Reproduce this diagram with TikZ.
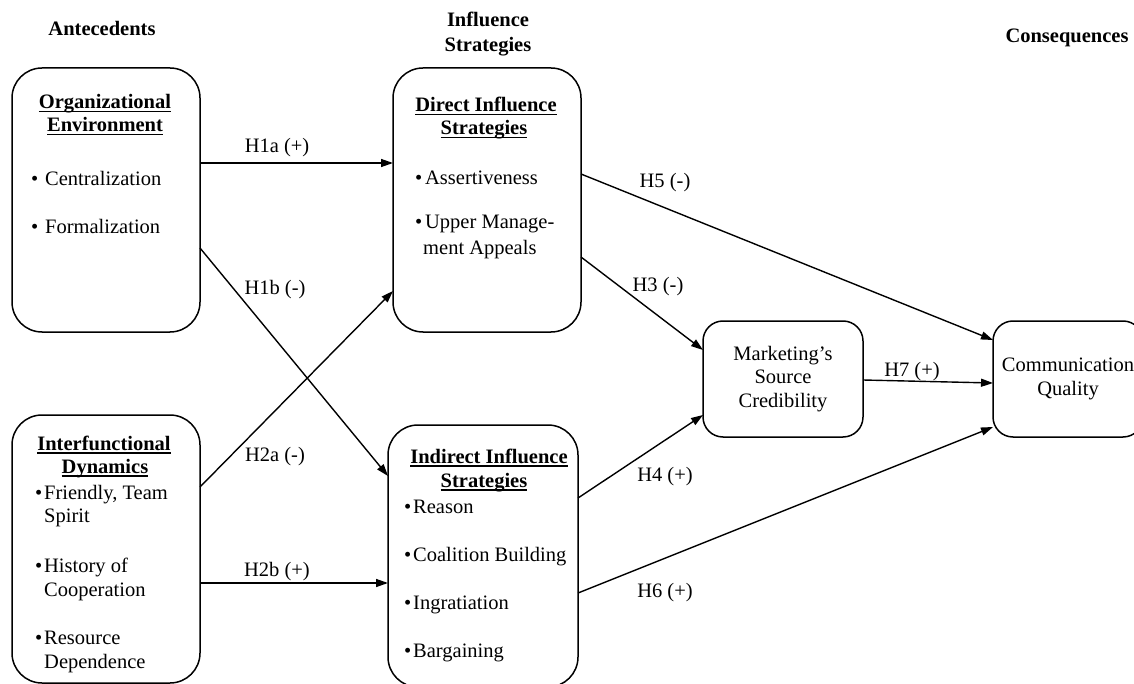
\documentclass[tikz,border=0pt]{standalone}
\usepackage{fontspec}
\setmainfont{Liberation Serif}
\usetikzlibrary{arrows.meta}
\newcommand\fs{\fontsize{20.5}{23.5}\selectfont}
\newcommand\myul[1]{\setbox0\hbox{#1}\rlap{\rule[-3.5pt]{\wd0}{1.4pt}}\box0}
\newcommand\bitem[2]{\makebox[#1][l]{•}#2}
\begin{document}
\begin{tikzpicture}[x=1pt,y=-1pt,
  mybox/.style={draw, line width=1.5pt, rounded corners=30pt, anchor=north west, inner sep=0pt, outer sep=0pt},
  smallbox/.style={mybox, rounded corners=20pt, align=center, font=\fs, anchor=center},
  arr/.style={line width=1.4pt, -{Triangle[length=12pt,width=8pt]}},
  lbl/.style={font=\fs, inner sep=0pt},
  txt/.style={font=\fs, inner sep=0pt, anchor=base west},
  ttl/.style={font=\fs\bfseries, inner sep=0pt, anchor=base},
  hdr/.style={font=\fs\bfseries, inner sep=0pt, anchor=base}]
\useasboundingbox (0,0) rectangle (1134,684);
\clip (0,0) rectangle (1134,684);

% headers
\node[hdr] (hA) at (102,36) {Antecedents};
\node[hdr] (hI1) at (488,27) {Influence};
\node[hdr] (hI2) at (488,52) {Strategies};
\node[hdr] (hC) at (1067,43) {Consequences};

% boxes
\node[mybox, minimum width=188pt, minimum height=264pt] (oe) at (12,68) {};
\node[mybox, minimum width=188pt, minimum height=264pt] (dis) at (393,68) {};
\node[mybox, minimum width=188pt, minimum height=268pt] (idn) at (12,415) {};
\node[mybox, minimum width=190pt, minimum height=262pt] (iis) at (388,425) {};
\node[smallbox, minimum width=160pt, minimum height=116pt] (msc) at (783,379)
  {Marketing’s\\Source\\Credibility};
\node[smallbox, minimum width=150pt, minimum height=116pt] (cq) at (1068,379)
  {Communication\\Quality};

% Organizational Environment
\node[ttl] (oe1) at (105,109) {\myul{Organizational}};
\node[ttl] (oe2) at (105,132) {\myul{Environment}};
\node[txt] (oe3) at (31,186) {\bitem{14pt}{Centralization}};
\node[txt] (oe4) at (31,234) {\bitem{14pt}{Formalization}};

% Direct Influence Strategies
\node[ttl] (di1) at (486,112) {\myul{Direct Influence}};
\node[ttl] (di2) at (484,135) {\myul{Strategies}};
\node[txt] (di3) at (415,185) {\bitem{10pt}{Assertiveness}};
\node[txt] (di4) at (415,229) {\bitem{10pt}{Upper Manage-}};
\node[txt] (di5) at (423,255) {ment Appeals};

% Interfunctional Dynamics
\node[ttl] (id1) at (104,450) {\myul{Interfunctional}};
\node[ttl] (id2) at (105,473) {\myul{Dynamics}};
\node[txt] (id3) at (35,499) {\bitem{9pt}{Friendly, Team}};
\node[txt] (id4) at (44,522) {Spirit};
\node[txt] (id5) at (35,572) {\bitem{9pt}{History of}};
\node[txt] (id6) at (44,596) {Cooperation};
\node[txt] (id7) at (35,644) {\bitem{9pt}{Resource}};
\node[txt] (id8) at (44,668) {Dependence};

% Indirect Influence Strategies
\node[ttl] (ii1) at (489,463) {\myul{Indirect Influence}};
\node[ttl] (ii2) at (484,487) {\myul{Strategies}};
\node[txt] (ii3) at (404,513) {\bitem{9pt}{Reason}};
\node[txt] (ii4) at (404,561) {\bitem{9pt}{Coalition Building}};
\node[txt] (ii5) at (404,609) {\bitem{9pt}{Ingratiation}};
\node[txt] (ii6) at (404,657) {\bitem{9pt}{Bargaining}};

% connectors
\draw[arr] (oe.east |- 0,163) -- (dis.west |- 0,163);
\draw[arr] (oe.east |- 0,248) -- (iis.west |- 0,476);
\draw[arr] (idn.east |- 0,487) -- (dis.west |- 0,291);
\draw[arr] (idn.east |- 0,583) -- (iis.west |- 0,583);
\draw[arr] (dis.east |- 0,174) -- (cq.west |- 0,340);
\draw[arr] (dis.east |- 0,257) -- (msc.west |- 0,350);
\draw[arr] (iis.east |- 0,498) -- (msc.west |- 0,415);
\draw[arr] (iis.east |- 0,593) -- (cq.west |- 0,427);
\draw[arr] (msc.east |- 0,380) -- (cq.west |- 0,383);

% labels
\node[lbl] (l1a) at (277,148) {H1a (+)};
\node[lbl] (l1b) at (275,290) {H1b (-)};
\node[lbl] (l2a) at (275,457) {H2a (-)};
\node[lbl] (l2b) at (277,572) {H2b (+)};
\node[lbl] (l5) at (665,183) {H5 (-)};
\node[lbl] (l3) at (658,287) {H3 (-)};
\node[lbl] (l4) at (665,477) {H4 (+)};
\node[lbl] (l6) at (665,593) {H6 (+)};
\node[lbl] (l7) at (912,372) {H7 (+)};
\end{tikzpicture}
\end{document}
